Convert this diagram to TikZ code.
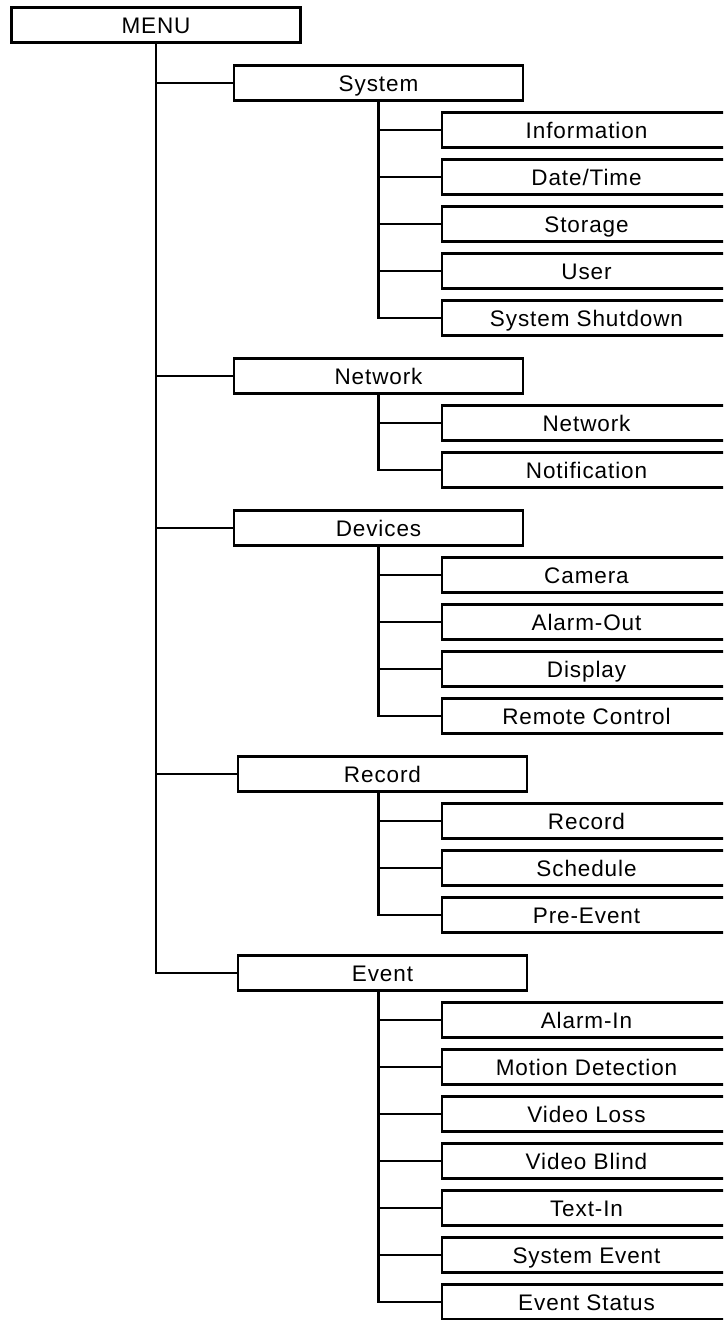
\documentclass[tikz,border=0pt]{standalone}
\usepackage{fontspec}
\setmainfont{Liberation Sans}[LetterSpace=4]
\begin{document}
\begin{tikzpicture}[x=1pt,y=-1pt,
  box/.style={draw, line width=2.6pt, rectangle, minimum width=289pt, minimum height=35pt,
    inner sep=0pt, font=\fontsize{22.5}{25}\selectfont, text height=16.1pt, text depth=0pt},
  trunk/.style={line width=2.5pt},
  branch/.style={line width=1.9pt}]
\useasboundingbox (0,0) rectangle (723,1320);
\clip (0,0) rectangle (723,1320);
% root
\node[box] (menu) at (156,25) {MENU};
% top level
\node[box] (sys) at (378.5,83) {System};
\node[box] (net) at (378.5,376) {Network};
\node[box] (dev) at (378.5,528) {Devices};
\node[box] (rec) at (382.5,774) {Record};
\node[box] (evt) at (382.5,973) {Event};
% System
\node[box] (info) at (586.5,130) {Information};
\node[box] (date) at (586.5,177) {Date/Time};
\node[box] (stor) at (586.5,224) {Storage};
\node[box] (user) at (586.5,271) {User};
\node[box] (shut) at (586.5,318) {System Shutdown};
% Network
\node[box] (netw) at (586.5,423) {Network};
\node[box] (noti) at (586.5,470) {Notification};
% Devices
\node[box] (cam) at (586.5,575) {Camera};
\node[box] (aout) at (586.5,622) {Alarm-Out};
\node[box] (disp) at (586.5,669) {Display};
\node[box] (rc) at (586.5,716) {Remote Control};
% Record
\node[box] (recr) at (586.5,821) {Record};
\node[box] (sched) at (586.5,868) {Schedule};
\node[box] (pre) at (586.5,915) {Pre-Event};
% Event
\node[box] (ain) at (586.5,1020) {Alarm-In};
\node[box] (mot) at (586.5,1067) {Motion Detection};
\node[box] (vloss) at (586.5,1114) {Video Loss};
\node[box] (vblind) at (586.5,1161) {Video Blind};
\node[box] (tin) at (586.5,1208) {Text-In};
\node[box] (sev) at (586.5,1255) {System Event};
\node[box] (est) at (586.5,1302) {Event Status};
% main trunk
\draw[trunk] (menu.south) |- (evt.west);
\foreach \n in {sys,net,dev,rec}
  \draw[branch] (menu.south |- \n.west) -- (\n.west);
% sub trunks
\coordinate (recT) at ([xshift=-4pt]rec.south);
\coordinate (evtT) at ([xshift=-4pt]evt.south);
\draw[trunk] (sys.south) |- (shut.west);
\foreach \n in {info,date,stor,user}
  \draw[branch] (sys.south |- \n.west) -- (\n.west);
\draw[trunk] (net.south) |- (noti.west);
\draw[branch] (net.south |- netw.west) -- (netw.west);
\draw[trunk] (dev.south) |- (rc.west);
\foreach \n in {cam,aout,disp}
  \draw[branch] (dev.south |- \n.west) -- (\n.west);
\draw[trunk] (recT) |- (pre.west);
\foreach \n in {recr,sched}
  \draw[branch] (recT |- \n.west) -- (\n.west);
\draw[trunk] (evtT) |- (est.west);
\foreach \n in {ain,mot,vloss,vblind,tin,sev}
  \draw[branch] (evtT |- \n.west) -- (\n.west);
\end{tikzpicture}
\end{document}
